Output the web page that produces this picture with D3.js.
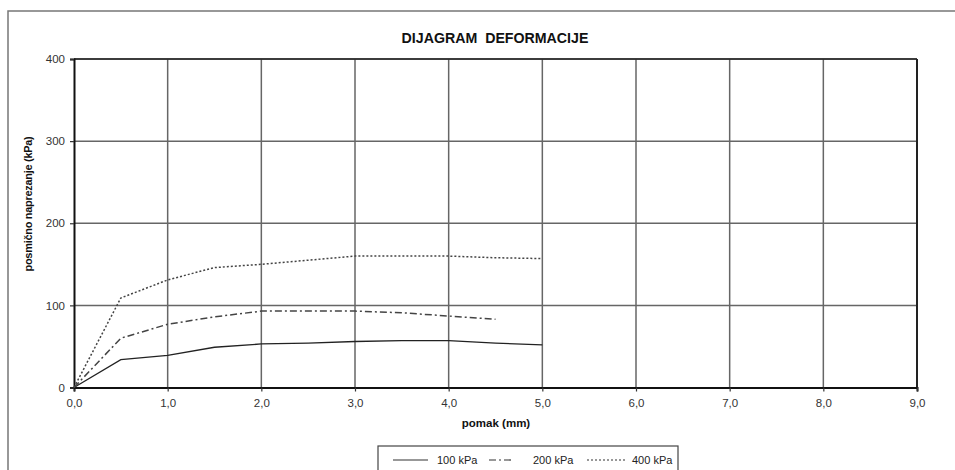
<!DOCTYPE html>
<html><head><meta charset="utf-8">
<script src="https://cdn.jsdelivr.net/npm/d3@7/dist/d3.min.js"></script>
<style>body{margin:0;background:#fff}svg{display:block;font-family:"Liberation Sans",Arial,sans-serif}</style>
</head><body><svg id="c" width="955" height="470"></svg>
<script>
const xTicks = [0,1,2,3,4,5,6,7,8,9];
const yTicks = [0,100,200,300,400];
const seriesNames = ["100 kPa","200 kPa","400 kPa"];
const x100 = [0,0.5,1.0,1.5,2.0,2.5,3.0,3.5,4.0,4.5,5.0];
const y100 = [0,34,39,49,53,54,56,57,57,54,52];
const x200 = [0,0.5,1.0,1.5,2.0,2.5,3.0,3.5,4.0,4.5];
const y200 = [0,60,77,86,93,93,93,91,87,83];
const x400 = [0,0.5,1.0,1.5,2.0,2.5,3.0,3.5,4.0,4.5,5.0];
const y400 = [0,109,131,146,150,155,160,160,160,158,157];
const dashes = [null,"7,3,2,3","2,2"];

const svg = d3.select("#c");
const L=74,R=917,T=59,B=387.5;
const x = d3.scaleLinear().domain([0,9]).range([L,R]);
const y = d3.scaleLinear().domain([0,400]).range([B,T]);

// outer frame
svg.append("rect").attr("x",8).attr("y",11).attr("width",960).attr("height",470)
  .attr("fill","none").attr("stroke","#777").attr("stroke-width",1.5);

svg.append("text").attr("x",495).attr("y",43).attr("text-anchor","middle").style("white-space","pre")
  .attr("font-size",14.2).attr("font-weight","bold").attr("fill","#111").text("DIJAGRAM  DEFORMACIJE");

// grid
const g = svg.append("g");
g.selectAll("line.v").data(xTicks.slice(1)).join("line").attr("x1",d=>x(d)).attr("x2",d=>x(d))
  .attr("y1",T).attr("y2",B).attr("stroke","#666").attr("stroke-width",1.5);
g.selectAll("line.h").data(yTicks.slice(1)).join("line").attr("x1",L).attr("x2",R)
  .attr("y1",d=>y(d)).attr("y2",d=>y(d)).attr("stroke","#666").attr("stroke-width",1.5);
g.append("line").attr("x1",L).attr("x2",R).attr("y1",T).attr("y2",T).attr("stroke","#222").attr("stroke-width",1.5);
g.append("line").attr("x1",R).attr("x2",R).attr("y1",T).attr("y2",B).attr("stroke","#222").attr("stroke-width",2);

// axes
const ax = svg.append("g").attr("transform",`translate(0,${B})`)
  .call(d3.axisBottom(x).tickValues(xTicks).tickSize(4).tickFormat(d=>d3.format(".1f")(d).replace(".",",")));
const ay = svg.append("g").attr("transform",`translate(${L},0)`)
  .call(d3.axisLeft(y).tickValues(yTicks).tickSize(4).tickPadding(5));
[ax,ay].forEach(a=>{
  a.select(".domain").attr("stroke","#111").attr("stroke-width",2);
  a.selectAll(".tick line").attr("stroke","#333").attr("stroke-width",1.2);
  a.selectAll("text").attr("font-size",11.5).attr("fill","#333").attr("font-family","Liberation Sans, Arial, sans-serif");
});
ax.selectAll("text").attr("dy","1.05em");

// lines
const data = [[x100,y100],[x200,y200],[x400,y400]];
const line = d3.line().x(d=>x(d[0])).y(d=>y(d[1]));
data.forEach((s,i)=>{
  const pts = s[0].map((v,j)=>[v,s[1][j]]);
  svg.append("path").attr("d",line(pts)).attr("fill","none")
    .attr("stroke",i==0?"#222":"#444").attr("stroke-width",i==0?1.3:1.5)
    .attr("stroke-dasharray",dashes[i]);
});

// axis labels
svg.append("text").attr("x",496).attr("y",427).attr("text-anchor","middle")
  .attr("font-size",11.5).attr("font-weight","bold").attr("fill","#111").text("pomak (mm)");
svg.append("text").attr("transform","translate(32,204) rotate(-90)").attr("text-anchor","middle")
  .attr("font-size",11).attr("font-weight","bold").attr("fill","#111").attr("letter-spacing",-0.3)
  .text("posmično naprezanje (kPa)");

// legend
svg.append("rect").attr("x",378).attr("y",446).attr("width",300).attr("height",30)
  .attr("fill","#fff").attr("stroke","#444").attr("stroke-width",1.2);
const lx=[393,489,587], lw=[35,25,40], tx=[437,533,632];
seriesNames.forEach((n,i)=>{
  svg.append("line").attr("x1",lx[i]).attr("x2",lx[i]+lw[i]).attr("y1",460).attr("y2",460)
    .attr("stroke","#333").attr("stroke-width",1.2).attr("stroke-dasharray",dashes[i]);
  svg.append("text").attr("x",tx[i]).attr("y",464).attr("font-size",11).attr("fill","#222").text(n);
});
</script></body></html>
